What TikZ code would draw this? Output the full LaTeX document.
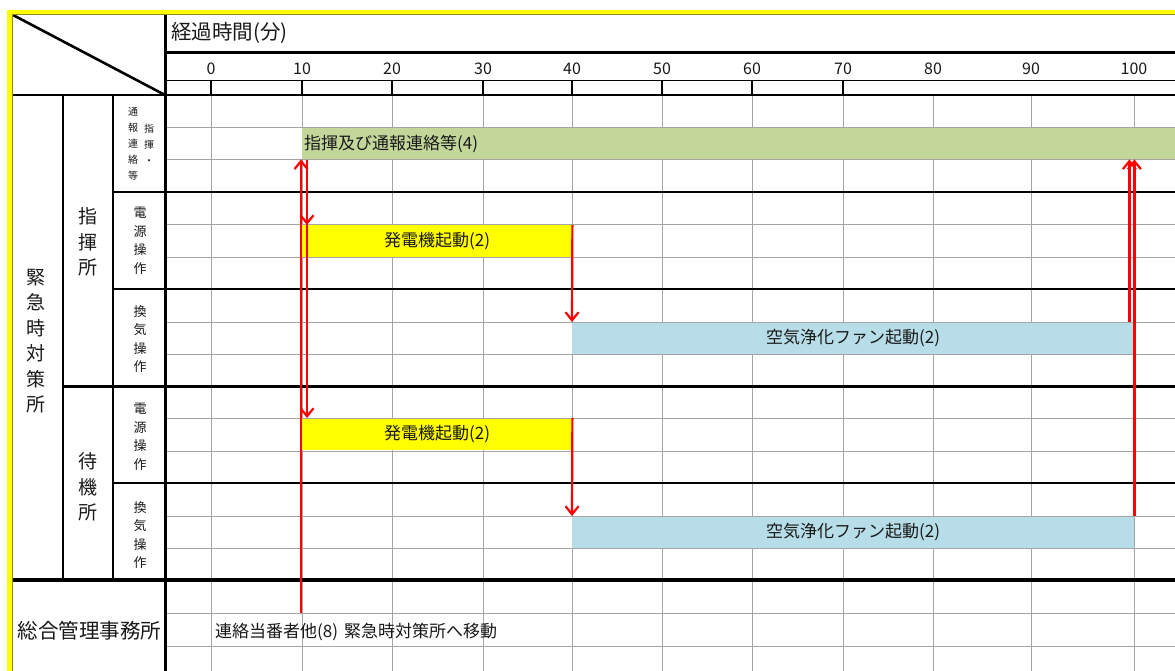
\documentclass[tikz,border=0pt]{standalone}
\usepackage{fontspec}
\setmainfont{Noto Sans CJK JP}
\usetikzlibrary{arrows.meta}
\definecolor{barGreen}{RGB}{196,215,155}
\definecolor{barYellow}{RGB}{255,255,0}
\definecolor{barBlue}{RGB}{183,222,232}
\definecolor{gridGray}{RGB}{165,165,165}
\definecolor{frameYellow}{RGB}{255,255,0}
\definecolor{frameEdge}{RGB}{140,140,40}
\definecolor{inkText}{RGB}{25,25,25}
\begin{document}
\begin{tikzpicture}[x=1pt,y=-1pt,
  every node/.style={text=inkText},
  gridline/.style={draw=gridGray, line width=1pt},
  rule/.style={draw=black, line width=2pt},
  heavyrule/.style={draw=black, line width=3pt},
  bar/.style={draw=none, inner sep=0pt, anchor=north west, minimum height=32pt,
    font=\fontsize{17}{17}\selectfont},
  numlabel/.style={font=\fontsize{16}{16}\selectfont, inner sep=0pt},
  biglabel/.style={align=center, inner sep=0pt, font=\fontsize{19}{25.5}\selectfont},
  smalllabel/.style={align=center, inner sep=0pt, font=\fontsize{13}{18.5}\selectfont},
  tinylabel/.style={align=center, inner sep=0pt, font=\fontsize{10}{16}\selectfont},
  flow/.style={draw=red, line width=2.2pt, -{Straight Barb[length=8pt,width=13pt,line width=2.2pt]}}
]
\useasboundingbox (0,0) rectangle (1175,671);
\clip (0,0) rectangle (1175,671);
\fill[white] (0,0) rectangle (1175,671);

% grid (vertical)
\foreach \x in {211,302,392,483,572,662,752,843,933,1031,1134}
  \draw[gridline] (\x,95) -- (\x,671);

% bars
\node[bar, fill=barGreen, text width=873pt, inner xsep=2pt, align=left] (cmd) at (302,128) {指揮及び通報連絡等(4)};
\node[bar, fill=barYellow, minimum width=270pt] (gen1) at (302,225) {発電機起動(2)};
\node[bar, fill=barBlue, minimum width=562pt] (fan1) at (572,322) {空気浄化ファン起動(2)};
\node[bar, fill=barYellow, minimum width=270pt] (gen2) at (302,418) {発電機起動(2)};
\node[bar, fill=barBlue, minimum width=562pt] (fan2) at (572,516) {空気浄化ファン起動(2)};

% grid (horizontal)
\foreach \y in {128,160,225,257,322,354,418,451,516,548,613,646}
  \draw[gridline] (165,\y) -- (1175,\y);

% header
\node[anchor=west, inner sep=0pt, font=\fontsize{20.5}{20.5}\selectfont] (title) at (171,33) {経過時間(分)};
\foreach \x/\n in {211/0,302/10,392/20,483/30,572/40,662/50,752/60,843/70,933/80,1031/90,1134/100}
  \node[numlabel] (n\n) at (\x,68.5) {\n};
\foreach \x in {211,302,392,483,572,662,752,843}
  \draw[draw=black, line width=2pt] (\x,80.5) -- (\x,95);

% table rules
\draw[draw=black, line width=2.4pt] (165,52.5) -- (1175,52.5);
\draw[draw=black, line width=1.4pt] (165,80.5) -- (1175,80.5);
\draw[draw=black, line width=2.6pt] (12,95) -- (1175,95);
\draw[draw=black, line width=2.6pt] (13,15) -- (165,95);
\draw[draw=black, line width=2.6pt] (165.5,14) -- (165.5,671);
\draw[rule] (63,95) -- (63,580);
\draw[rule] (113,95) -- (113,580);
\foreach \y in {192,289,483}
  \draw[rule] (113,\y) -- (1175,\y);
\draw[heavyrule] (63,386) -- (1175,386);
\draw[draw=black, line width=3.4pt] (12,580) -- (1175,580);

% frame
\draw[draw=frameYellow, line width=4.4pt] (9.5,671) -- (9.5,12) -- (1175,12);
\draw[draw=frameEdge, line width=0.7pt] (11.9,671) -- (11.9,14.4) -- (1175,14.4);

% left labels
\node[biglabel] (kinkyu) at (36,341) {緊\\急\\時\\対\\策\\所};
\node[biglabel] (shiki) at (88,242) {指\\揮\\所};
\node[biglabel] (taiki) at (88,487) {待\\機\\所};
\node[tinylabel] (tsuhoA) at (133,144) {通\\報\\連\\絡\\等};
\node[tinylabel] (tsuhoB) at (149,144) {指\\揮\\・};
\node[smalllabel] (den1) at (140,241) {電\\源\\操\\作};
\node[smalllabel] (kan1) at (140,339) {換\\気\\操\\作};
\node[smalllabel] (den2) at (140,437) {電\\源\\操\\作};
\node[smalllabel] (kan2) at (140,535) {換\\気\\操\\作};
\node[inner sep=0pt, font=\fontsize{20.5}{20.5}\selectfont] (soumu) at (89.5,631) {総合管理事務所};
\node[anchor=west, inner sep=0pt, font=\fontsize{17}{17}\selectfont] (move) at (215,632) {連絡当番者他(8)\hspace{6pt}緊急時対策所へ移動};

% flows
\coordinate (staff) at (301,613);
\draw[flow] (staff) -- ([yshift=1pt]staff |- cmd.south);
\draw[flow] ([xshift=5pt]cmd.south west) -- ([xshift=5pt]gen1.north west);
\draw[flow] ([xshift=5pt]cmd.south west) -- ([xshift=5pt]gen2.north west);
\draw[flow] (gen1.north east) -- (fan1.north west);
\draw[flow] (gen2.north east) -- (fan2.north west);
\draw[flow] ([xshift=-5pt]fan1.north east) -- ([xshift=-5pt,yshift=1pt]fan1.north east |- cmd.south);
\draw[flow] (fan2.north east) -- ([yshift=1pt]fan2.north east |- cmd.south);
\end{tikzpicture}
\end{document}
